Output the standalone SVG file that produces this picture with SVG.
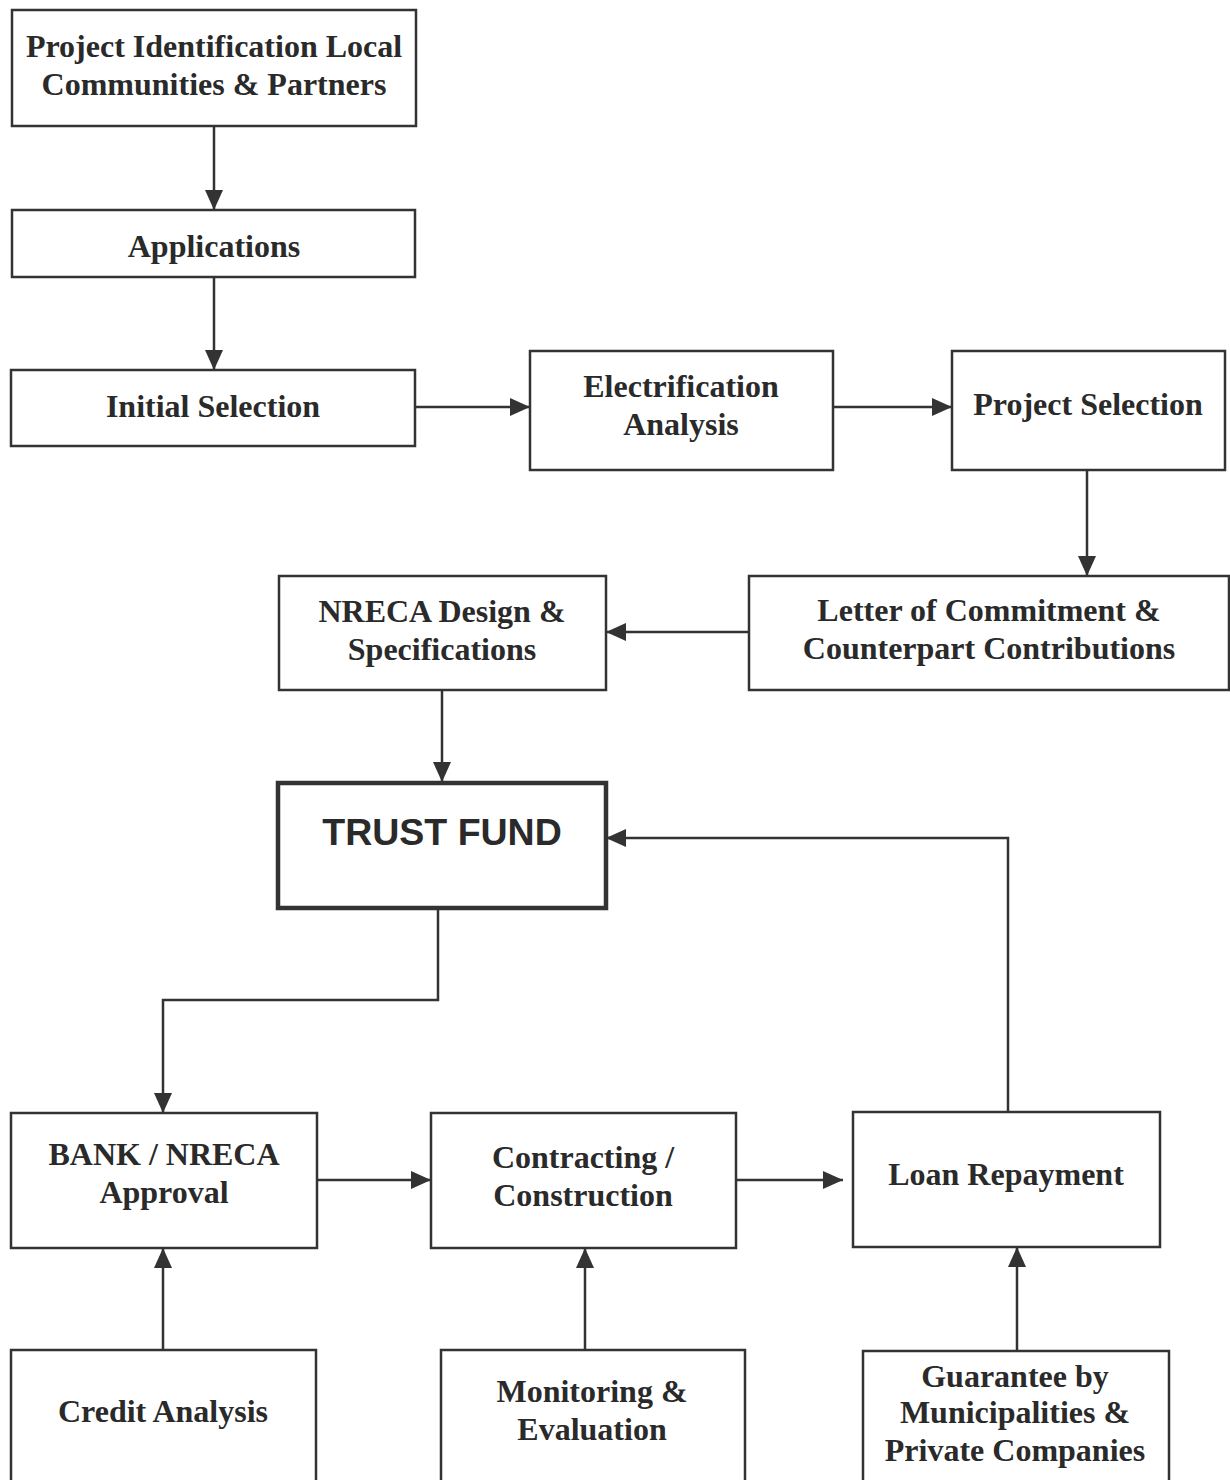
<svg xmlns="http://www.w3.org/2000/svg" width="1230" height="1480" viewBox="0 0 1230 1480">
<defs>
<marker id="ah" markerUnits="userSpaceOnUse" markerWidth="20" markerHeight="20" viewBox="0 0 20 20" refX="20" refY="10" orient="auto">
<path d="M0,1 L20,10 L0,19 Z" fill="#333"/>
</marker>
</defs>
<style>
.box{fill:#fff;stroke:#333;stroke-width:2.5}
.tf{fill:#fff;stroke:#333;stroke-width:4.5}
.t{font-family:"Liberation Serif","Times New Roman",serif;font-weight:bold;font-size:32px;fill:#2a2a2a;text-anchor:middle}
.ts{font-family:"Liberation Sans",Arial,sans-serif;font-weight:bold;font-size:37.5px;fill:#2a2a2a;text-anchor:middle}
.c{fill:none;stroke:#333;stroke-width:2.5;marker-end:url(#ah)}
</style>
<rect width="1230" height="1480" fill="#fff"/>
<g id="connectors">
<path class="c" d="M214,126 V210"/>
<path class="c" d="M214,277 V370"/>
<path class="c" d="M415,407 H530"/>
<path class="c" d="M833,407 H952"/>
<path class="c" d="M1087,470 V576"/>
<path class="c" d="M749,632 H606"/>
<path class="c" d="M442,690 V782"/>
<path class="c" d="M1008,1112 V838 H606"/>
<path class="c" d="M438,908 V1000 H163 V1113"/>
<path class="c" d="M317,1180 H431"/>
<path class="c" d="M736,1180 H843"/>
<path class="c" d="M163,1350 V1248"/>
<path class="c" d="M585,1350 V1248"/>
<path class="c" d="M1017,1351 V1247"/>
</g>
<g id="n1"><rect class="box" x="12" y="10" width="404" height="116"/>
<text class="t" x="214" y="57">Project Identification Local</text>
<text class="t" x="214" y="95">Communities &amp; Partners</text></g>
<g id="n2"><rect class="box" x="12" y="210" width="403" height="67"/>
<text class="t" x="214" y="257">Applications</text></g>
<g id="n3"><rect class="box" x="11" y="370" width="404" height="76"/>
<text class="t" x="213" y="417">Initial Selection</text></g>
<g id="n4"><rect class="box" x="530" y="351" width="303" height="119"/>
<text class="t" x="681" y="397">Electrification</text>
<text class="t" x="681" y="435">Analysis</text></g>
<g id="n5"><rect class="box" x="952" y="351" width="273" height="119"/>
<text class="t" x="1088" y="415">Project Selection</text></g>
<g id="n6"><rect class="box" x="749" y="576" width="480" height="114"/>
<text class="t" x="989" y="621">Letter of Commitment &amp;</text>
<text class="t" x="989" y="659">Counterpart Contributions</text></g>
<g id="n7"><rect class="box" x="279" y="576" width="327" height="114"/>
<text class="t" x="442" y="622">NRECA Design &amp;</text>
<text class="t" x="442" y="660">Specifications</text></g>
<g id="n8"><rect class="tf" x="278" y="783" width="328" height="125"/>
<text class="ts" x="442" y="845">TRUST FUND</text></g>
<g id="n9"><rect class="box" x="11" y="1113" width="306" height="135"/>
<text class="t" x="164" y="1165">BANK / NRECA</text>
<text class="t" x="164" y="1203">Approval</text></g>
<g id="n10"><rect class="box" x="431" y="1113" width="305" height="135"/>
<text class="t" x="583" y="1168">Contracting /</text>
<text class="t" x="583" y="1206">Construction</text></g>
<g id="n11"><rect class="box" x="853" y="1112" width="307" height="135"/>
<text class="t" x="1006" y="1185">Loan Repayment</text></g>
<g id="n12"><rect class="box" x="11" y="1350" width="305" height="160"/>
<text class="t" x="163" y="1422">Credit Analysis</text></g>
<g id="n13"><rect class="box" x="441" y="1350" width="304" height="160"/>
<text class="t" x="592" y="1402">Monitoring &amp;</text>
<text class="t" x="592" y="1440">Evaluation</text></g>
<g id="n14"><rect class="box" x="863" y="1351" width="306" height="160"/>
<text class="t" x="1015" y="1387">Guarantee by</text>
<text class="t" x="1015" y="1423">Municipalities &amp;</text>
<text class="t" x="1015" y="1461">Private Companies</text></g>
</svg>
